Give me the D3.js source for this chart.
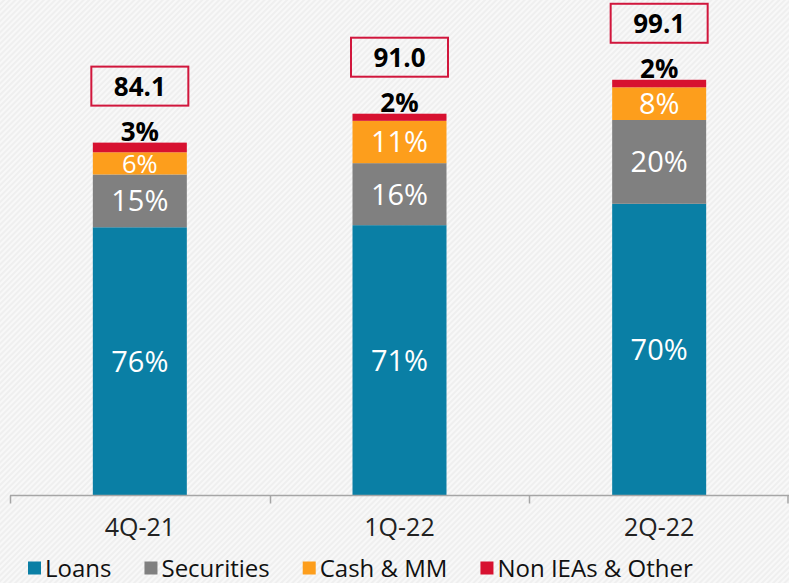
<!DOCTYPE html>
<html>
<head>
<meta charset="utf-8">
<script src="https://cdn.jsdelivr.net/npm/d3@7/dist/d3.min.js"></script>
<style>
  html, body { margin: 0; padding: 0; background: #f1f1f1; }
  svg { display: block; }
  text { font-family: "Open Sans", "Noto Sans", sans-serif; }
</style>
</head>
<body>
<svg id="chart" width="789" height="583"></svg>
<script>
// ---- data ----
const categories = ["4Q-21", "1Q-22", "2Q-22"];
const totals = [84.1, 91.0, 99.1];
const totalLabels = ["84.1", "91.0", "99.1"];
const seriesNames = ["Loans", "Securities", "Cash & MM", "Non IEAs & Other"];
const loans = [63.9, 64.4, 69.5];
const securities = [12.6, 14.8, 20.0];
const cashMM = [5.3, 10.1, 7.8];
const nonIEAs = [2.3, 1.7, 1.8];
const loansPct = ["76%", "71%", "70%"];
const securitiesPct = ["15%", "16%", "20%"];
const cashPct = ["6%", "11%", "8%"];
const nonIEAsPct = ["3%", "2%", "2%"];
const colors = ["#0a7fa5", "#808080", "#fd9e1c", "#d71130"];

const seriesValues = [loans, securities, cashMM, nonIEAs];
const seriesPct = [loansPct, securitiesPct, cashPct, nonIEAsPct];

const svg = d3.select("#chart");
const W = 789, H = 583;

// background with faint diagonal stripes
const defs = svg.append("defs");
const pat = defs.append("pattern").attr("id", "bgp").attr("patternUnits", "userSpaceOnUse")
  .attr("width", 4).attr("height", 4).attr("patternTransform", "rotate(45)");
pat.append("rect").attr("width", 4).attr("height", 4).attr("fill", "#efefef");
pat.append("rect").attr("width", 2).attr("height", 4).attr("fill", "#f8f8f8");
svg.append("rect").attr("width", W).attr("height", H).attr("fill", "url(#bgp)");

const pad = 0.638;
const x = d3.scaleBand().domain(categories).range([10, 789]).paddingInner(pad).paddingOuter(pad / 2);
const y = d3.scaleLinear().domain([0, 100]).range([495, 76]);

// stacked data
const rows = categories.map((c, i) => {
  const r = { cat: c };
  seriesNames.forEach((s, k) => r[s] = seriesValues[k][i]);
  return r;
});
const stacked = d3.stack().keys(seriesNames)(rows);

const g = svg.append("g");
stacked.forEach((layer, k) => {
  g.selectAll(null).data(layer).join("rect")
    .attr("x", d => x(d.data.cat))
    .attr("y", d => y(d[1]))
    .attr("width", x.bandwidth())
    .attr("height", d => y(d[0]) - y(d[1]))
    .attr("fill", colors[k]);
});

// in-bar white labels (first three series)
stacked.slice(0, 3).forEach((layer, k) => {
  layer.forEach((d, i) => {
    const h = y(d[0]) - y(d[1]);
    const fs = Math.min(29, h * 1.15);
    const cy = (y(d[0]) + y(d[1])) / 2;
    g.append("text")
      .attr("x", x(d.data.cat) + x.bandwidth() / 2)
      .attr("y", cy + fs * 0.36)
      .attr("text-anchor", "middle")
      .attr("fill", "#ffffff")
      .attr("font-size", fs)
      .text(seriesPct[k][i]);
  });
});

// top segment labels (black bold above bar)
stacked[3].forEach((d, i) => {
  g.append("text")
    .attr("x", x(d.data.cat) + x.bandwidth() / 2)
    .attr("y", y(d[1]) - 2)
    .attr("text-anchor", "middle")
    .attr("fill", "#000")
    .attr("font-size", 26)
    .attr("font-weight", "bold")
    .text(nonIEAsPct[i]);
});

// total boxes
categories.forEach((c, i) => {
  const cx = x(c) + x.bandwidth() / 2;
  const bottom = y(totals[i]) - 37;
  const bw = 97, bh = 39;
  g.append("rect")
    .attr("x", cx - bw / 2).attr("y", bottom - bh)
    .attr("width", bw).attr("height", bh)
    .attr("fill", "none").attr("stroke", "#d1173d").attr("stroke-width", 2);
  g.append("text")
    .attr("x", cx).attr("y", bottom - bh / 2 + 9.5)
    .attr("text-anchor", "middle")
    .attr("font-size", 26).attr("font-weight", "bold").attr("fill", "#000")
    .text(totalLabels[i]);
});

// axis
const axisY = 495.5;
const ax = svg.append("g");
ax.append("line").attr("x1", 10).attr("x2", 789).attr("y1", axisY).attr("y2", axisY)
  .attr("stroke", "#a6a6a6").attr("stroke-width", 1.5);
const bounds = categories.map(c => x(c) - x.step() * pad / 2).concat([x(categories[2]) - x.step() * pad / 2 + x.step()]);
bounds.forEach(b => {
  const bx = Math.min(Math.round(b) + 0.5, 788);
  ax.append("line").attr("x1", bx).attr("x2", bx).attr("y1", axisY).attr("y2", axisY + 8)
    .attr("stroke", "#a6a6a6").attr("stroke-width", 1.5);
});
categories.forEach(c => {
  ax.append("text")
    .attr("x", x(c) + x.bandwidth() / 2)
    .attr("y", 536)
    .attr("text-anchor", "middle")
    .attr("font-size", 25)
    .attr("fill", "#222")
    .text(c);
});

// legend
const leg = svg.append("g");
let lx = 28;
seriesNames.forEach((s, k) => {
  leg.append("rect").attr("x", lx).attr("y", 561.5).attr("width", 13).attr("height", 13).attr("fill", colors[k]);
  const t = leg.append("text").attr("x", lx + 17).attr("y", 577)
    .attr("font-size", 24).attr("fill", "#111").text(s);
  lx = lx + 17 + t.node().getComputedTextLength() + 33;
});
</script>
</body>
</html>
